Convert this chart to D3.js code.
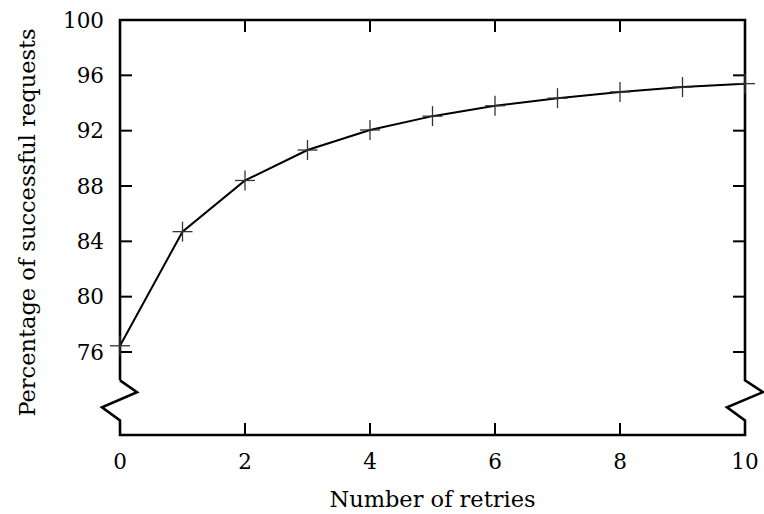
<!DOCTYPE html>
<html>
<head>
<meta charset="utf-8">
<script src="https://cdn.jsdelivr.net/npm/d3@7"></script>
<style>
  body { margin: 0; background: #fff; }
</style>
</head>
<body>
<svg id="fig" width="764" height="514"></svg>
<script>
// retries vs success rate
const retries = [0, 1, 2, 3, 4, 5, 6, 7, 8, 9, 10];
const success = [76.45, 84.7, 88.4, 90.6, 92.05, 93.05, 93.8, 94.35, 94.8, 95.15, 95.4];
const xTicks = [0, 2, 4, 6, 8, 10];
const yTicks = [76, 80, 84, 88, 92, 96, 100];

const serif = 'DejaVu Serif';
const tickFs = '21.5px';
const titleFs = '22.5px';

const margin = {top: 20, right: 19, bottom: 79, left: 120};
const width = 764 - margin.left - margin.right;
const height = 514 - margin.top - margin.bottom;

const svg = d3.select('#fig');
const g = svg.append('g').attr('transform', `translate(${margin.left},${margin.top})`);

const x = d3.scaleLinear().domain([0, 10]).range([0, width]);
const y = d3.scaleLinear().domain([70, 100]).range([height, 0]);

// frame with the axis break on both sides
const yb0 = y(73.95), yb1 = y(73.1), yb2 = y(72.0), yb3 = y(71.05);
const frame = d3.path();
frame.moveTo(0, yb0);
frame.lineTo(0, 0);
frame.lineTo(width, 0);
frame.lineTo(width, yb0);
frame.lineTo(width + 18, yb1);
frame.lineTo(width - 18, yb2);
frame.lineTo(width, yb3);
frame.lineTo(width, height);
frame.lineTo(0, height);
frame.lineTo(0, yb3);
frame.lineTo(-18, yb2);
frame.lineTo(17, yb1);
frame.lineTo(0, yb0);
g.append('path')
    .attr('d', frame.toString())
    .attr('fill', 'none')
    .attr('stroke', '#000')
    .attr('stroke-width', 2.6)
    .attr('stroke-linejoin', 'miter');

// ticks inside the frame
const tickLen = 12;
g.selectAll('.ytick-l').data(yTicks.slice(0, -1)).enter().append('line')
    .attr('x1', 0).attr('x2', tickLen)
    .attr('y1', d => y(d)).attr('y2', d => y(d))
    .attr('stroke', '#000').attr('stroke-width', 2);
g.selectAll('.ytick-r').data(yTicks.slice(0, -1)).enter().append('line')
    .attr('x1', width - tickLen).attr('x2', width)
    .attr('y1', d => y(d)).attr('y2', d => y(d))
    .attr('stroke', '#000').attr('stroke-width', 2);
const inner = xTicks.slice(1, -1);
g.selectAll('.xtick-b').data(inner).enter().append('line')
    .attr('x1', d => x(d)).attr('x2', d => x(d))
    .attr('y1', height).attr('y2', height - tickLen)
    .attr('stroke', '#000').attr('stroke-width', 2);
g.selectAll('.xtick-t').data(inner).enter().append('line')
    .attr('x1', d => x(d)).attr('x2', d => x(d))
    .attr('y1', 0).attr('y2', tickLen)
    .attr('stroke', '#000').attr('stroke-width', 2);

// tick labels
g.selectAll('.ylab').data(yTicks).enter().append('text')
    .attr('x', -16).attr('y', d => y(d))
    .attr('dy', '0.35em')
    .attr('text-anchor', 'end')
    .style('font-family', serif)
    .style('font-size', tickFs)
    .text(d => d);
g.selectAll('.xlab').data(xTicks).enter().append('text')
    .attr('x', d => x(d)).attr('y', height + 34)
    .attr('text-anchor', 'middle')
    .style('font-family', serif)
    .style('font-size', tickFs)
    .text(d => d);

// axis titles
g.append('text')
    .attr('x', width / 2).attr('y', height + 72)
    .attr('text-anchor', 'middle')
    .style('font-family', serif)
    .style('font-size', titleFs)
    .text('Number of retries');
g.append('text')
    .attr('transform', `translate(${-85},${height / 2 - 5}) rotate(-90)`)
    .attr('text-anchor', 'middle')
    .style('font-family', serif)
    .style('font-size', titleFs)
    .text('Percentage of successful requests');

// series
const pts = retries.map((r, i) => ({x: r, y: success[i]}));
const line = d3.line().x(d => x(d.x)).y(d => y(d.y));
g.append('path')
    .datum(pts)
    .attr('d', line)
    .attr('fill', 'none')
    .attr('stroke', '#000')
    .attr('stroke-width', 2);

const arm = 10;
const marks = g.selectAll('.mark').data(pts).enter().append('g')
    .attr('transform', d => `translate(${x(d.x)},${y(d.y)})`);
marks.append('line').attr('x1', -arm).attr('x2', arm).attr('y1', 0).attr('y2', 0)
    .attr('stroke', '#333').attr('stroke-width', 1.3);
marks.append('line').attr('x1', 0).attr('x2', 0).attr('y1', -arm).attr('y2', arm)
    .attr('stroke', '#333').attr('stroke-width', 1.3);
</script>
</body>
</html>
